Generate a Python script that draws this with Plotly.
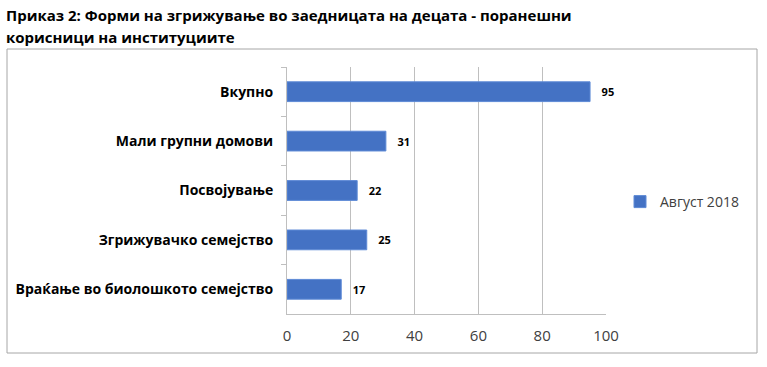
import plotly.graph_objects as go

categories = ["Вкупно", "Мали групни домови", "Посвојување",
              "Згрижувачко семејство", "Враќање во биолошкото семејство"]
values = [95, 31, 22, 25, 17]
series_name = "Август 2018"
x_ticks = [0, 20, 40, 60, 80, 100]
title_line1 = "Приказ 2: Форми на згрижување во заедницата на децата - поранешни"
title_line2 = "корисници на институциите"

W, H = 767, 367
L, R, T, B = 287, 161, 67, 53
pw, ph = W - L - R, H - T - B

def px_x(p):
    return (p - L) / pw

def px_y(p):
    return (H - B - p) / ph

fig = go.Figure()
fig.add_trace(go.Bar(
    x=values, y=categories, orientation="h", name=series_name,
    marker=dict(color="#4472C4", line=dict(color="#5E8AD6", width=1)),
    text=values, texttemplate="   %{x}", textposition="outside",
    textfont=dict(family="Open Sans", size=11, color="#000000", weight="bold"),
    cliponaxis=False, width=0.4,
))

fig.update_layout(
    width=W, height=H,
    margin=dict(l=L, r=R, t=T, b=B),
    paper_bgcolor="white", plot_bgcolor="white",
    showlegend=True,
    legend=dict(x=px_x(620), y=px_y(202), xanchor="left", yanchor="middle",
                font=dict(family="Open Sans", size=14, color="#404040"),
                bgcolor="rgba(0,0,0,0)", itemwidth=30),
    xaxis=dict(range=[0, 100], tickvals=x_ticks, showgrid=True,
               gridcolor="#BFBFBF", gridwidth=1, zeroline=False,
               showline=True, linecolor="#BFBFBF", linewidth=1,
               tickfont=dict(family="Open Sans", size=15, color="#404040"),
               ticks="", ticklabelstandoff=8, fixedrange=True),
    yaxis=dict(autorange="reversed", showline=True, linecolor="#BFBFBF",
               linewidth=1, ticks="outside", tickson="boundaries",
               ticklen=5, tickcolor="#BFBFBF", showgrid=False,
               tickfont=dict(family="Open Sans", size=14, color="#000000",
                             weight="bold"),
               ticklabelstandoff=10, fixedrange=True),
    bargap=0.6,
    shapes=[dict(type="rect", xref="paper", yref="paper",
                 x0=px_x(7), x1=px_x(757), y0=px_y(353), y1=px_y(49),
                 line=dict(color="#A6A6A6", width=1), layer="below")],
    annotations=[
        dict(text=title_line1, xref="paper", yref="paper", x=px_x(4), y=px_y(15),
             xanchor="left", yanchor="middle", showarrow=False,
             font=dict(family="Open Sans", size=15, color="#000000", weight="bold")),
        dict(text=title_line2, xref="paper", yref="paper", x=px_x(4), y=px_y(37),
             xanchor="left", yanchor="middle", showarrow=False,
             font=dict(family="Open Sans", size=15, color="#000000", weight="bold")),
    ],
)

fig.write_html("out.html", config={"displayModeBar": False},
               post_script="document.body.style.margin='0';")
